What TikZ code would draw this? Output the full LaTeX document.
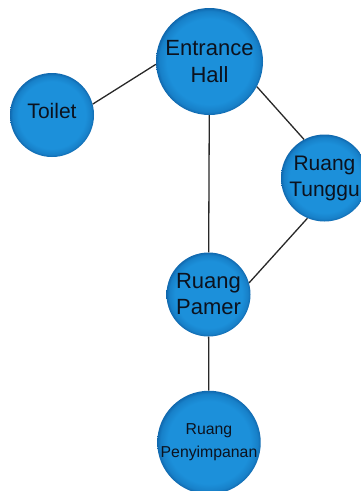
\documentclass[tikz,border=0pt]{standalone}
\usepackage{fontspec}
\setmainfont{Liberation Sans}
\definecolor{ballin}{RGB}{28,144,218}
\definecolor{ballout}{RGB}{16,104,174}
\definecolor{roomtext}{RGB}{12,18,30}
\definecolor{linkcol}{RGB}{40,40,40}
\pgfdeclareradialshading{roomball}{\pgfpoint{0bp}{0bp}}{color(0bp)=(ballin); color(20bp)=(ballin); color(23.5bp)=(ballin!60!ballout); color(25bp)=(ballout); color(50bp)=(ballout)}
\tikzset{
  room/.style={circle, inner sep=0pt, shading=roomball, text=roomtext, align=center},
  link/.style={draw=linkcol, line width=1.3pt}
}
\begin{document}
\begin{tikzpicture}[x=1pt,y=-1pt]
\useasboundingbox (0,0) rectangle (361,491);
\node[room, minimum size=107pt, font=\fontsize{22}{27}\selectfont] (eh) at (209.5,61.5) {Entrance\\Hall};
\node[room, minimum size=84pt, text depth=8pt, font=\fontsize{21}{26}\selectfont] (toilet) at (52,115) {Toilet};
\node[room, minimum size=87pt, font=\fontsize{21}{26}\selectfont] (tunggu) at (324.5,178) {Ruang\\Tunggu};
\node[room, minimum size=84pt, font=\fontsize{22}{26}\selectfont] (pamer) at (208.5,294.5) {Ruang\\Pamer};
\node[room, minimum size=96pt, font=\fontsize{15.8}{23}\selectfont] (peny) at (209,442.5) {Ruang\\Penyimpanan};
\draw[link] (toilet.15.6) -- (eh.183.7);
\draw[link] (eh) -- (pamer);
\draw[link] (eh.-28.7) -- (tunggu.118.3);
\draw[link] (tunggu.247.6) -- (pamer.16.8);
\draw[link] (pamer) -- (peny);
\end{tikzpicture}
\end{document}
